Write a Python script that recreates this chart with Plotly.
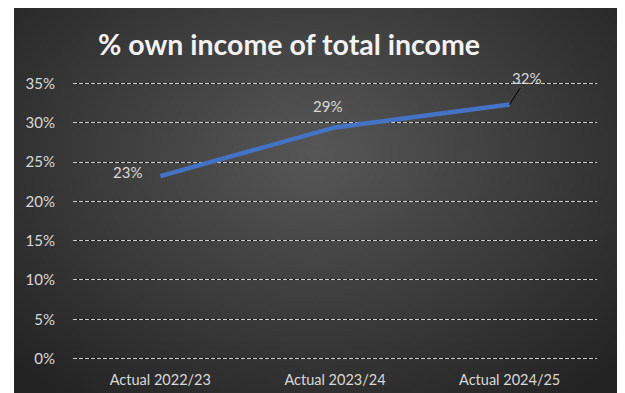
import base64, struct, zlib, math
import plotly.graph_objects as go

# ---- data ----
categories = ["Actual 2022/23", "Actual 2023/24", "Actual 2024/25"]
own_income_share = [0.232, 0.294, 0.323]
y_ticks = [0, 0.05, 0.10, 0.15, 0.20, 0.25, 0.30, 0.35]
title_text = "% own income of total income"

# ---- background radial gradient image (styling only) ----
def gradient_png(w, h, c_center, c_edge, cx=0.5, cy=0.38):
    rows = []
    for j in range(h):
        row = bytearray([0])
        for i in range(w):
            dx = (i / (w - 1) - cx) / 0.7
            dy = (j / (h - 1) - cy) / 0.8
            r = min(1.0, math.sqrt(dx * dx + dy * dy))
            v = int(round(c_center + (c_edge - c_center) * r))
            row.append(v)
        rows.append(bytes(row))
    raw = b"".join(rows)
    def chunk(t, d):
        c = struct.pack(">I", len(d)) + t + d
        return c + struct.pack(">I", zlib.crc32(t + d) & 0xffffffff)
    png = b"\x89PNG\r\n\x1a\n"
    png += chunk(b"IHDR", struct.pack(">IIBBBBB", w, h, 8, 0, 0, 0, 0))
    png += chunk(b"IDAT", zlib.compress(raw, 9))
    png += chunk(b"IEND", b"")
    return "data:image/png;base64," + base64.b64encode(png).decode()

W, H = 625, 393
ML, MR, MT, MB = 73, 28, 81, 32
pw, ph = W - ML - MR, H - MT - MB
bg_left, bg_right, bg_top, bg_bottom = 14, 617, 8, 393
yr = [-0.003, 0.353]

fig = go.Figure()
fig.add_trace(go.Scatter(
    x=categories, y=own_income_share, mode="lines",
    line=dict(color="#4472C4", width=4.5), hoverinfo="skip", showlegend=False))
# invisible trace for overlay axis (white dashed gridlines)
fig.add_trace(go.Scatter(
    x=categories, y=own_income_share, yaxis="y2", mode="lines",
    line=dict(color="rgba(0,0,0,0)"), hoverinfo="skip", showlegend=False))

ann_offsets = [(-33, -4, False), (-8, -21, False), (17, -27, True)]
for c, v, (ax, ay, arrow) in zip(categories, own_income_share, ann_offsets):
    fig.add_annotation(
        x=c, y=v, text=f"{v:.0%}", showarrow=True, ax=ax, ay=ay,
        arrowcolor="#000000" if arrow else "rgba(0,0,0,0)", arrowwidth=1,
        arrowhead=0, standoff=0, startstandoff=0,
        font=dict(family="Lato", size=15, color="#D9D9D9"))

fig.add_layout_image(dict(
    source=gradient_png(160, 102, 0x57, 0x23),
    xref="paper", yref="paper",
    x=(bg_left - ML) / pw, y=(H - MB - bg_top) / ph,
    sizex=(bg_right - bg_left) / pw, sizey=(bg_bottom - bg_top) / ph,
    xanchor="left", yanchor="top", sizing="stretch", layer="below"))

fig.update_layout(
    width=W, height=H,
    margin=dict(l=ML, r=MR, t=MT, b=MB, autoexpand=False),
    paper_bgcolor="#FFFFFF", plot_bgcolor="rgba(0,0,0,0)",
    title=dict(text=f"<b>{title_text}</b>", x=289 / W, xanchor="center",
               y=1 - 45 / H, yanchor="middle",
               font=dict(family="Lato", size=28.5, color="#F2F2F2")),
    xaxis=dict(type="category", range=[-0.5, 2.5], showgrid=False,
               showline=False, zeroline=False, ticks="", automargin=False,
               ticklabelstandoff=8,
               tickfont=dict(family="Lato", size=14.5, color="#D9D9D9")),
    yaxis=dict(range=yr, tickvals=y_ticks, tickformat=".0%", automargin=False,
               showgrid=True, gridcolor="#0A0A0A",
               gridwidth=1, zeroline=False, showline=False, ticks="",
               ticklabelstandoff=17,
               tickfont=dict(family="Lato", size=15, color="#D9D9D9")),
    yaxis2=dict(overlaying="y", range=yr, tickvals=y_ticks, automargin=False,
                showgrid=True, gridcolor="rgba(255,255,255,0.8)", griddash="4px,2px",
                gridwidth=1, showticklabels=False, zeroline=False, showline=False),
)
fig.write_html("out.html")
